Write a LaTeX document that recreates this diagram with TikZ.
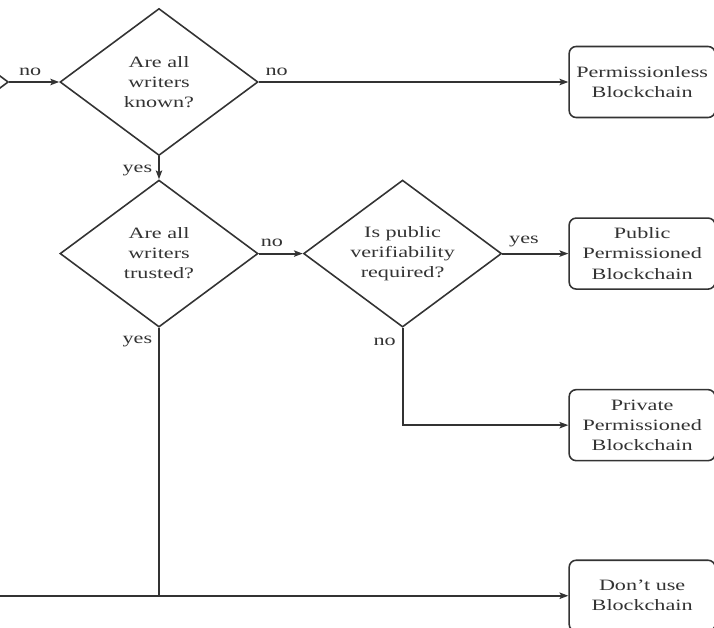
\documentclass[tikz,border=0pt]{standalone}
\usepackage{fontspec}
\setmainfont{Liberation Serif}[FakeStretch=1.4]
\usetikzlibrary{shapes.geometric,arrows.meta,positioning}

\begin{document}
\begin{tikzpicture}[node distance=0.46cm and 0.88cm, every node/.style={font=\fontsize{9}{11.4}\selectfont, text=black!80},
		decision/.style={draw=black!80, line width=0.9pt, diamond, aspect=1.35, minimum width=3.96cm, minimum height=2.94cm, inner sep=0pt, align=center},
		result/.style={draw=black!80, line width=0.9pt, rounded corners=4pt, minimum width=2.92cm, minimum height=1.42cm, align=center},
		flow/.style={-{Stealth[length=5pt, width=3.6pt, inset=1pt]}, line width=1.1pt, draw=black!80},
		branch/.style={line width=1.1pt, draw=black!80}]
			\useasboundingbox (0,0) rectangle (14.28,-12.56);
			\clip (0,0) rectangle (14.28,-12.56);
			\coordinate (edgeorigin) at (0,0);
			
			\node[decision] (known) at (3.18,-1.64) {Are all\\writers\\known?};
			\node[decision, left=1cm of known] (prev) {};
			\node[decision, below=of known] (trusted) {Are all\\writers\\trusted?};
			\node[decision, right=of trusted] (public) {Is public\\verifiability\\required?};
			
			\node[result, right=1.32cm of public] (pubperm) {Public\\Permissioned\\Blockchain};
			\node[result] (permless) at (pubperm |- known) {Permissionless\\Blockchain};
			\node[result, below=1.98cm of pubperm] (private) {Private\\Permissioned\\Blockchain};
			\node[result, below=1.96cm of private] (dontuse) {Don't use\\Blockchain};
			
			\coordinate (outside) at (edgeorigin |- dontuse.west);
			\coordinate (join) at (trusted.south |- dontuse.west);
			
			\draw[flow] (prev.east) -- node[above, pos=0.42] {no} (known.west);
			\draw[flow] (known.east) -- node[above right, pos=0] {no} (permless.west);
			\draw[flow] (known.south) -- node[left, pos=0.6] {yes} (trusted.north);
			\draw[flow] (trusted.east) -- node[above, pos=0.3] {no} (public.west);
			\draw[flow] (public.east) -- node[above right, pos=0] {yes} (pubperm.west);
			\draw[flow] (public.south) |- node[left, pos=0.07] {no} (private.west);
			\draw[branch] (trusted.south) -- node[left, pos=0.05] {yes} (join);
			\draw[flow] (outside) -- (dontuse.west);
		\end{tikzpicture}
\end{document}
